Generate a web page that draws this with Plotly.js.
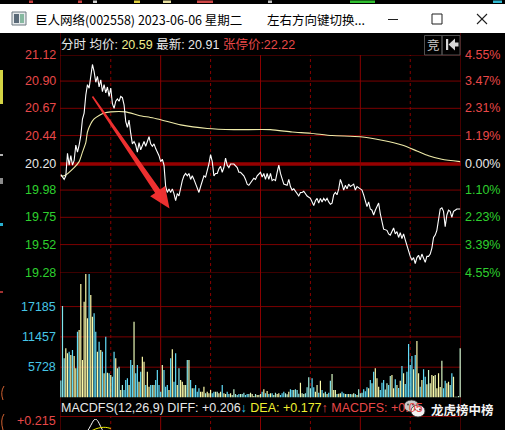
<!DOCTYPE html>
<html><head><meta charset="utf-8">
<script src="https://cdn.plot.ly/plotly-3.0.1.min.js"></script>
<style>html,body{margin:0;padding:0;background:#000;overflow:hidden}#chart{width:505px;height:430px}</style>
</head><body><div id="chart"></div>
<script>
// ---------------- data ----------------
const stockTitle = '巨人网络(002558) 2023-06-06 星期二';
const hintText = '左右方向键切换...';
const prevClose = 20.20;
const avgNow = '20.59', lastNow = '20.91', limitUp = '22.22';
const priceTicks = [21.12, 20.90, 20.67, 20.44, 20.20, 19.98, 19.75, 19.52, 19.28];
const pctLabels = ['4.55%', '3.47%', '2.31%', '1.19%', '0.00%', '1.10%', '2.23%', '3.39%', '4.55%'];
const volTicks = [5728, 11457, 17185];
const volMax = 23530;

const lineMin = [0,2,3,4,5,6,7,8,9,10,11,12,13,14,15,16,17,18,19,20,21,22,23,24,25,26,27,28,29,30,
 31,32,33,34,35,36,37,38,39,40,41,42,43,44,45,46,47,48,49,50,51,52,53,54,55,56,57,59,60,
 61,62,63,64,65,66,67,68,69,70,71,72,73,74,75,76,77,78,79,80,81,82,83,84,85,86,87,88,89,90,
 91,92,93,94,95,96,97,98,99,100,101,102,104,106,107,108,110,111,112,113,115,116,117,118,120,121,
 122,123,124,125,126,127,128,129,130,131,132,133,134,136,137,138,139,140,142,143,144,145,146,147,148,150,
 151,152,153,154,155,156,157,158,159,160,161,162,163,164,165,166,167,168,169,170,171,172,173,174,175,176,177,178,180,
 181,182,183,184,185,186,187,188,189,190,191,192,193,194,196,197,198,199,200,201,202,203,204,205,206,207,208,209,210,
 211,212,213,214,215,216,217,218,219,220,221,222,223,224,225,226,227,228,229,230,231,232,233,234,235,236,237,238,240];
const linePrice = [20.11,20.07,20.10,20.29,20.19,20.27,20.19,20.23,20.36,20.30,20.36,20.44,20.58,20.63,20.78,20.87,20.84,20.95,21.04,20.98,20.89,20.94,20.85,20.91,20.81,20.87,20.80,20.85,20.77,20.84,
 20.71,20.67,20.73,20.75,20.73,20.77,20.76,20.70,20.56,20.51,20.57,20.46,20.37,20.39,20.36,20.30,20.38,20.32,20.36,20.39,20.35,20.40,20.43,20.37,20.35,20.37,20.33,20.27,20.22,
 20.24,20.19,20.01,19.96,19.99,19.96,19.99,19.95,19.89,19.95,19.93,20.01,20.06,20.10,20.12,20.10,20.12,20.07,20.10,20.07,20.03,19.99,19.96,20.01,20.06,20.10,20.09,20.14,20.20,20.28,
 20.22,20.10,20.12,20.12,20.16,20.18,20.13,20.17,20.25,20.19,20.17,20.20,20.20,20.17,20.13,20.13,20.10,20.07,20.03,20.02,20.06,20.08,20.07,20.10,20.13,20.09,
 20.12,20.07,20.12,20.07,20.12,20.06,20.07,20.06,20.13,20.19,20.12,20.07,20.03,20.02,20.07,20.01,19.98,19.99,19.95,19.93,19.96,19.96,19.97,19.95,19.93,19.91,
 19.88,19.85,19.89,19.91,19.87,19.91,19.88,19.91,19.89,19.91,19.88,19.86,19.87,19.94,19.96,19.94,19.99,20.07,20.03,19.98,20.02,19.99,20.03,20.01,20.02,20.03,19.98,20.01,19.99,
 19.98,19.94,19.88,19.84,19.88,19.82,19.81,19.77,19.81,19.84,19.87,19.78,19.71,19.65,19.64,19.61,19.60,19.63,19.66,19.61,19.63,19.58,19.62,19.57,19.61,19.56,19.51,19.48,19.42,
 19.39,19.41,19.36,19.41,19.43,19.39,19.44,19.41,19.37,19.42,19.42,19.44,19.49,19.58,19.60,19.64,19.74,19.82,19.83,19.80,19.67,19.77,19.81,19.80,19.75,19.80,19.81,19.82,19.82];

const avgMin = [0,2,8,11,13,15,16,18,20,23,26,30,39,47,55,61,72,88,104,126,139,150,163,180,193,205,214,221,229,240];
const avgPrice = [20.10,20.10,20.17,20.22,20.30,20.38,20.47,20.54,20.58,20.61,20.63,20.64,20.64,20.61,20.59,20.57,20.53,20.50,20.49,20.49,20.47,20.46,20.44,20.43,20.40,20.36,20.31,20.27,20.24,20.22];

const volume = [3200,
 17290,7400,9290,8350,8660,8030,8980,7840,5510,12440,
 12760,21450,7090,18110,23340,14960,23340,19370,15280,15910,
 12440,8660,10550,8980,8660,4570,11500,4700,4570,4250,
 3940,8660,7400,5510,5830,1420,2360,1420,3310,3620,
 2360,7090,6140,14330,4570,6140,2990,4880,7720,6770,
 2360,4880,2050,2360,2360,2360,3310,5200,2360,1100,
 6140,5200,2050,2360,1420,7400,9100,2990,8350,2360,
 5510,3310,2990,2360,2360,7090,7090,3310,1730,1730,
 2360,1100,1730,1100,1100,2050,790,1100,790,1420,
 790,1100,1100,1100,790,1100,2360,790,660,1100,
 660,790,470,1540,660,470,660,660,660,910,
 470,660,660,910,660,280,660,470,470,660,
 1100,1540,790,1230,660,790,790,470,910,660,
 790,470,790,1100,790,600,1100,1540,1420,1420,
 1540,1420,700,2800,790,660,790,1920,3810,1730,
 3620,1920,1100,2360,900,3180,1420,790,1100,660,
 910,3180,4440,1420,1420,660,700,790,1100,790,
 660,660,660,660,600,790,660,470,1540,790,
 910,1540,1200,1920,1730,3310,2680,4880,5510,3620,
 2050,1420,2800,3310,1500,2680,2360,4060,4250,1730,
 3430,2360,1800,3180,5950,4570,2550,4880,10110,6140,
 7840,5330,8030,10680,4570,2050,3310,5330,3940,2500,
 5200,2680,4250,4060,4250,1730,4570,2000,6960,1730,
 3180,2680,2990,2360,4570,3940,150,150,300,9300];

const diffMin = [15,17,19,20,21,22,24,26];
const diffVal = [0.150,0.172,0.200,0.211,0.214,0.208,0.180,0.150];
const deaMin = [18,21,24,27,30];
const deaVal = [0.160,0.170,0.176,0.177,0.172];
const macdHead = {name: 'MACDFS(12,26,9)', diff: '+0.206', dea: '+0.177', macd: '+0.05'};
const macdTop = '+0.215';
const watermark = '龙虎榜中榜';

// ---------------- helpers ----------------
const W = 505, H = 430;
const px = x => x / W, py = y => 1 - y / H;
const FONT = 'Liberation Sans, Arial, Noto Sans CJK SC, sans-serif';
const CJK = 'Noto Sans CJK SC, Liberation Sans, sans-serif';
const RED = '#e84848', GREEN = '#2ed02e', WHITE = '#e8e8e8', CYAN = '#46c6e6';
const GRID = '#7a0000';

function priceAt(m) {
  if (m <= lineMin[0]) return linePrice[0];
  for (let i = 1; i < lineMin.length; i++) {
    if (m <= lineMin[i]) {
      const t = (m - lineMin[i - 1]) / (lineMin[i] - lineMin[i - 1]);
      return linePrice[i - 1] + t * (linePrice[i] - linePrice[i - 1]);
    }
  }
  return linePrice[linePrice.length - 1];
}
function mix(a, b, t) {
  const pa = [1,3,5].map(i => parseInt(a.substr(i,2),16));
  const pb = [1,3,5].map(i => parseInt(b.substr(i,2),16));
  return 'rgb(' + pa.map((v,i) => Math.round(v + (pb[i]-v)*t)).join(',') + ')';
}
const volMinutes = volume.map((v, i) => i);
const volColors = volume.map((v, m) => {
  const d = m === 0 ? -0.02 : priceAt(m) - priceAt(m - 1);
  const t = Math.max(-1, Math.min(1, d / 0.03));
  return t >= 0 ? mix('#c4f6d0', '#fcfaaa', t) : mix('#c4f6d0', '#62dcf8', -t);
});

// ---------------- traces ----------------
const traces = [
  {type:'bar', x: volMinutes, y: volume, xaxis:'x', yaxis:'y2', width:0.72,
   marker:{color: volColors, line:{width:0}}, hoverinfo:'skip'},
  {type:'scatter', mode:'lines', x: avgMin, y: avgPrice, xaxis:'x', yaxis:'y',
   line:{color:'#eeeaa8', width:1.1, shape:'spline', smoothing:0.6}, hoverinfo:'skip'},
  {type:'scatter', mode:'lines', x: lineMin, y: linePrice, xaxis:'x', yaxis:'y',
   line:{color:'#ffffff', width:1.1}, hoverinfo:'skip'},
  {type:'scatter', mode:'lines', x: diffMin, y: diffVal, xaxis:'x', yaxis:'y3',
   line:{color:'#ffffff', width:1, shape:'spline'}, hoverinfo:'skip'},
  {type:'scatter', mode:'lines', x: deaMin, y: deaVal, xaxis:'x', yaxis:'y3',
   line:{color:'#f0f000', width:1, shape:'spline'}, hoverinfo:'skip'}
];

// ---------------- shapes ----------------
const shapes = [];
const rect = (x0,y0,x1,y1,fill,extra) => shapes.push(Object.assign({type:'rect', xref:'paper', yref:'paper',
  x0:px(x0), x1:px(x1), y0:py(y1), y1:py(y0), fillcolor:fill, line:{width:0}, layer:'below'}, extra||{}));
const pline = (x0,y0,x1,y1,color,w,extra) => shapes.push(Object.assign({type:'line', xref:'paper', yref:'paper',
  x0:px(x0), x1:px(x1), y0:py(y0), y1:py(y1), line:{color:color, width:w}}, extra||{}));

// window title bar
rect(0, 4, 505, 33, '#ffffff');
// top strip fragments of the window behind
[[29,33,'#c84040'],[78,82,'#c84040'],[93,97,'#d0d0d0'],[134,140,'#e0d040'],[163,171,'#e8e0a0'],
 [197,213,'#d04848'],[268,272,'#c0c0c0'],[350,375,'#30c030'],[493,502,'#30b8d0']]
 .forEach(b => rect(b[0], 0.5, b[1], 3, b[2]));
// left strip fragments
rect(0, 70, 3, 104, '#d4d444');
rect(0, 154, 3, 156, '#b0b0b0');
rect(0, 178, 3, 184, '#8c8c8c');
rect(0, 223, 3, 226, '#28b0d0');
rect(0, 291, 3, 293, '#a03030');
shapes.push({type:'path', xref:'paper', yref:'paper', line:{color:'#d06030', width:1},
  path:'M '+px(4)+','+py(386)+' Q '+px(0)+','+py(392)+' '+px(3)+','+py(400)});
shapes.push({type:'path', xref:'paper', yref:'paper', line:{color:'#d06030', width:1},
  path:'M '+px(4)+','+py(414)+' Q '+px(0)+','+py(420)+' '+px(3)+','+py(430)});

// title bar icon & window controls
rect(12, 12, 26, 25, '#e6eaec', {line:{color:'#6c7880', width:1}, layer:'above'});
rect(14, 14, 19, 23, '#5a6a78', {layer:'above'});
rect(20, 14, 24, 23, '#86b8a0', {layer:'above'});
pline(388, 19.5, 398, 19.5, '#202020', 1);
rect(432, 14, 442, 24, 'rgba(0,0,0,0)', {line:{color:'#202020', width:1}, layer:'above'});
pline(477, 14, 487, 24, '#202020', 1.1);
pline(487, 14, 477, 24, '#202020', 1.1);

// horizontal price grid
priceTicks.forEach(v => shapes.push({type:'line', xref:'paper', yref:'y', x0:px(60), x1:px(461), y0:v, y1:v,
  line:{color: v === prevClose ? '#960000' : GRID, width: v === prevClose ? 3.5 : 1}, layer:'below'}));
// volume grid
volTicks.forEach(v => shapes.push({type:'line', xref:'paper', yref:'y2', x0:px(60), x1:px(461), y0:v, y1:v,
  line:{color:GRID, width:1}, layer:'below'}));
pline(60, 416.5, 461, 416.5, GRID, 1, {layer:'below'});
// vertical time grid: solid every hour, dotted every half hour
[-0.5, 240.5].forEach(m => shapes.push({type:'line', xref:'x', yref:'paper', x0:m, x1:m, y0:0, y1:py(33),
  line:{color:'#8a0000', width:1}, layer:'below'}));
[60, 120, 180].forEach(m => {
  shapes.push({type:'line', xref:'x', yref:'paper', x0:m, x1:m, y0:py(398), y1:py(55), line:{color:'#8a0000', width:1}, layer:'below'});
  shapes.push({type:'line', xref:'x', yref:'paper', x0:m, x1:m, y0:0, y1:py(416), line:{color:'#8a0000', width:1}, layer:'below'});
});
[30, 90, 150, 210].forEach(m => {
  shapes.push({type:'line', xref:'x', yref:'paper', x0:m, x1:m, y0:py(398), y1:py(55), line:{color:'#8a0000', width:1, dash:'dot'}, layer:'below'});
  shapes.push({type:'line', xref:'x', yref:'paper', x0:m, x1:m, y0:0, y1:py(416), line:{color:'#8a0000', width:1, dash:'dot'}, layer:'below'});
});

// header buttons
rect(424.5, 35.5, 442, 55, 'rgba(0,0,0,0)', {line:{color:'#505050', width:1}, layer:'above'});
rect(442, 35.5, 460, 55, 'rgba(0,0,0,0)', {line:{color:'#505050', width:1}, layer:'above'});
rect(446, 39, 448.2, 50, '#d8d8d8', {layer:'above'});
shapes.push({type:'path', xref:'paper', yref:'paper', fillcolor:'#d8d8d8', line:{width:0}, layer:'above',
  path:'M '+px(448.5)+','+py(44.5)+' L '+px(455)+','+py(38.5)+' L '+px(455)+','+py(50.5)+' Z'});
rect(455, 42.5, 458.5, 46.5, '#d8d8d8', {layer:'above'});

// red hand-drawn arrow overlay
(function(){
  const a0 = [92.5, 96.5], tip = [169.5, 208.5];
  const dx = tip[0]-a0[0], dy = tip[1]-a0[1], L = Math.hypot(dx, dy);
  const ux = dx/L, uy = dy/L, nx = -uy, ny = ux;
  const headLen = 21, headHalf = 9, tail = 0.8, neck = 3;
  const bx = tip[0]-ux*headLen, by = tip[1]-uy*headLen;
  const pts = [[a0[0]+nx*tail, a0[1]+ny*tail],[bx+nx*neck, by+ny*neck],[bx+nx*headHalf, by+ny*headHalf],
    tip,[bx-nx*headHalf, by-ny*headHalf],[bx-nx*neck, by-ny*neck],[a0[0]-nx*tail, a0[1]-ny*tail]];
  shapes.push({type:'path', xref:'paper', yref:'paper', fillcolor:'#ff3434', opacity:0.93, line:{width:0}, layer:'above',
    path:'M ' + pts.map(p => px(p[0]) + ',' + py(p[1])).join(' L ') + ' Z'});
})();

// watermark icon
shapes.push({type:'circle', xref:'paper', yref:'paper', x0:px(404), x1:px(419), y0:py(412), y1:py(400),
  fillcolor:'#c8c8c8', line:{color:'#303030', width:0.8}, layer:'above'});
shapes.push({type:'circle', xref:'paper', yref:'paper', x0:px(411), x1:px(425), y0:py(417), y1:py(405),
  fillcolor:'#f2f2f2', line:{color:'#303030', width:0.8}, layer:'above'});
[[408,404.5],[413,404.5],[415,409.5],[420,409.5]].forEach(e =>
  shapes.push({type:'circle', xref:'paper', yref:'paper', x0:px(e[0]-0.9), x1:px(e[0]+0.9), y0:py(e[1]+0.9), y1:py(e[1]-0.9),
    fillcolor:'#404040', line:{width:0}, layer:'above'}));

// ---------------- annotations ----------------
const ann = [];
const txt = (x, y, text, color, size, anchor, fam, extra) => ann.push(Object.assign({xref:'paper', yref:'paper',
  x:px(x), y:py(y), text:text, showarrow:false, xanchor:anchor||'left', yanchor:'middle',
  font:{family:fam||FONT, size:size||12.5, color:color}}, extra||{}));

txt(33, 19.5, stockTitle, '#000000', 12.5, 'left', CJK);
txt(265, 19.5, hintText, '#000000', 12.5, 'left', CJK);
txt(59, 44, '分时 均价: <span style="color:#f0ee90">' + avgNow + '</span> 最新: ' + lastNow +
  ' <span style="color:' + RED + '">张停价:' + limitUp + '</span>', WHITE, 12.5, 'left', FONT);
txt(433.3, 45, '竞', '#c8c8c8', 12.5, 'center', CJK);

priceTicks.forEach((v, i) => {
  const c = v > prevClose ? RED : (v < prevClose ? GREEN : WHITE);
  ann.push({xref:'paper', yref:'y', x:px(57.5), y:v, text:v.toFixed(2), showarrow:false, xanchor:'right', yanchor:'middle',
    font:{family:FONT, size:12.5, color:c}});
  ann.push({xref:'paper', yref:'y', x:px(462.5), y:v, text:pctLabels[i], showarrow:false, xanchor:'left', yanchor:'middle',
    font:{family:FONT, size:12.5, color:c}});
});
volTicks.forEach(v => ann.push({xref:'paper', yref:'y2', x:px(57.5), y:v, text:String(v), showarrow:false,
  xanchor:'right', yanchor:'middle', font:{family:FONT, size:12.5, color:CYAN}}));

txt(59, 408, macdHead.name + ' DIFF: ' + macdHead.diff + '<span style="color:#30c0e0">↓</span> ' +
  '<span style="color:#f0f030">DEA: ' + macdHead.dea + '</span><span style="color:' + RED + '">↑ MACDFS: ' + macdHead.macd + '</span>',
  WHITE, 12.5, 'left', FONT);
txt(57.5, 420.5, macdTop, RED, 12.5, 'right', FONT);
txt(429, 409, '<b>' + watermark + '</b>', '#f4f4f4', 12.5, 'left', CJK);

// ---------------- layout ----------------
const layout = {
  width: W, height: H, margin:{l:0, r:0, t:0, b:0},
  paper_bgcolor:'#000000', plot_bgcolor:'rgba(0,0,0,0)',
  showlegend:false, hovermode:false,
  xaxis:{domain:[px(60), px(461)], range:[-0.5, 240.5], visible:false, fixedrange:true},
  yaxis:{domain:[py(273), py(55)], range:[19.28, 21.12], visible:false, fixedrange:true},
  yaxis2:{domain:[py(397.5), py(273)], range:[0, volMax], visible:false, fixedrange:true, anchor:'x'},
  yaxis3:{domain:[0, py(419)], range:[0.165, 0.215], visible:false, fixedrange:true, anchor:'x'},
  shapes: shapes, annotations: ann
};
Plotly.newPlot('chart', traces, layout, {displayModeBar:false, staticPlot:true});
</script></body></html>
